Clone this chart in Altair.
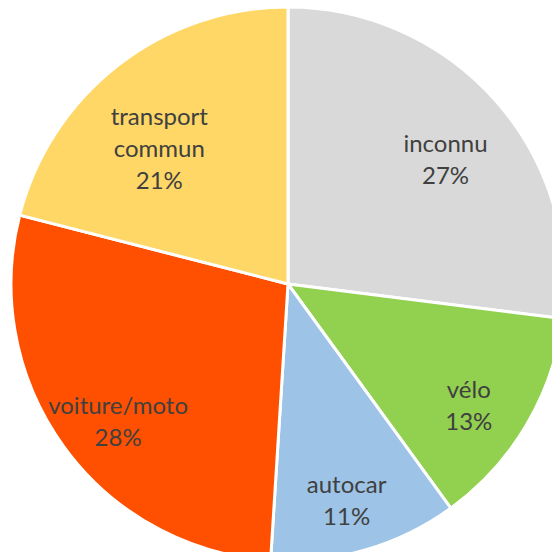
import altair as alt
import pandas as pd

categories = ["inconnu", "vélo", "autocar", "voiture/moto", "transport commun"]
label_names = ["inconnu", "vélo", "autocar", "voiture/moto", "transport\ncommun"]
values = [27, 13, 11, 28, 21]
colors = ["#D9D9D9", "#92D050", "#9DC3E6", "#FE5000", "#FED766"]

df = pd.DataFrame({
    "cat": categories,
    "value": values,
    "order": list(range(len(categories))),
    "label": [f"{n}\n{v}%" for n, v in zip(label_names, values)],
})

cx = alt.value(280)
cy = alt.value(276)

base = alt.Chart(df).encode(
    theta=alt.Theta("value:Q", stack=True),
    order=alt.Order("order:Q"),
    x=cx,
    y=cy,
)

pie = base.mark_arc(radius=277, stroke="white", strokeWidth=3).encode(
    color=alt.Color("cat:N", scale=alt.Scale(domain=categories, range=colors), legend=None)
)

text = base.mark_text(
    radius=210, font="Lato", fontSize=24, color="#404040",
    lineBreak="\n", lineHeight=32, align="center", baseline="middle"
).encode(text="label:N")

chart = (pie + text).properties(
    width=544, height=544, padding=0, autosize=alt.AutoSizeParams(type="none")
).configure_view(stroke=None)

chart.save("out.html", embed_options={"renderer": "svg", "actions": False})
